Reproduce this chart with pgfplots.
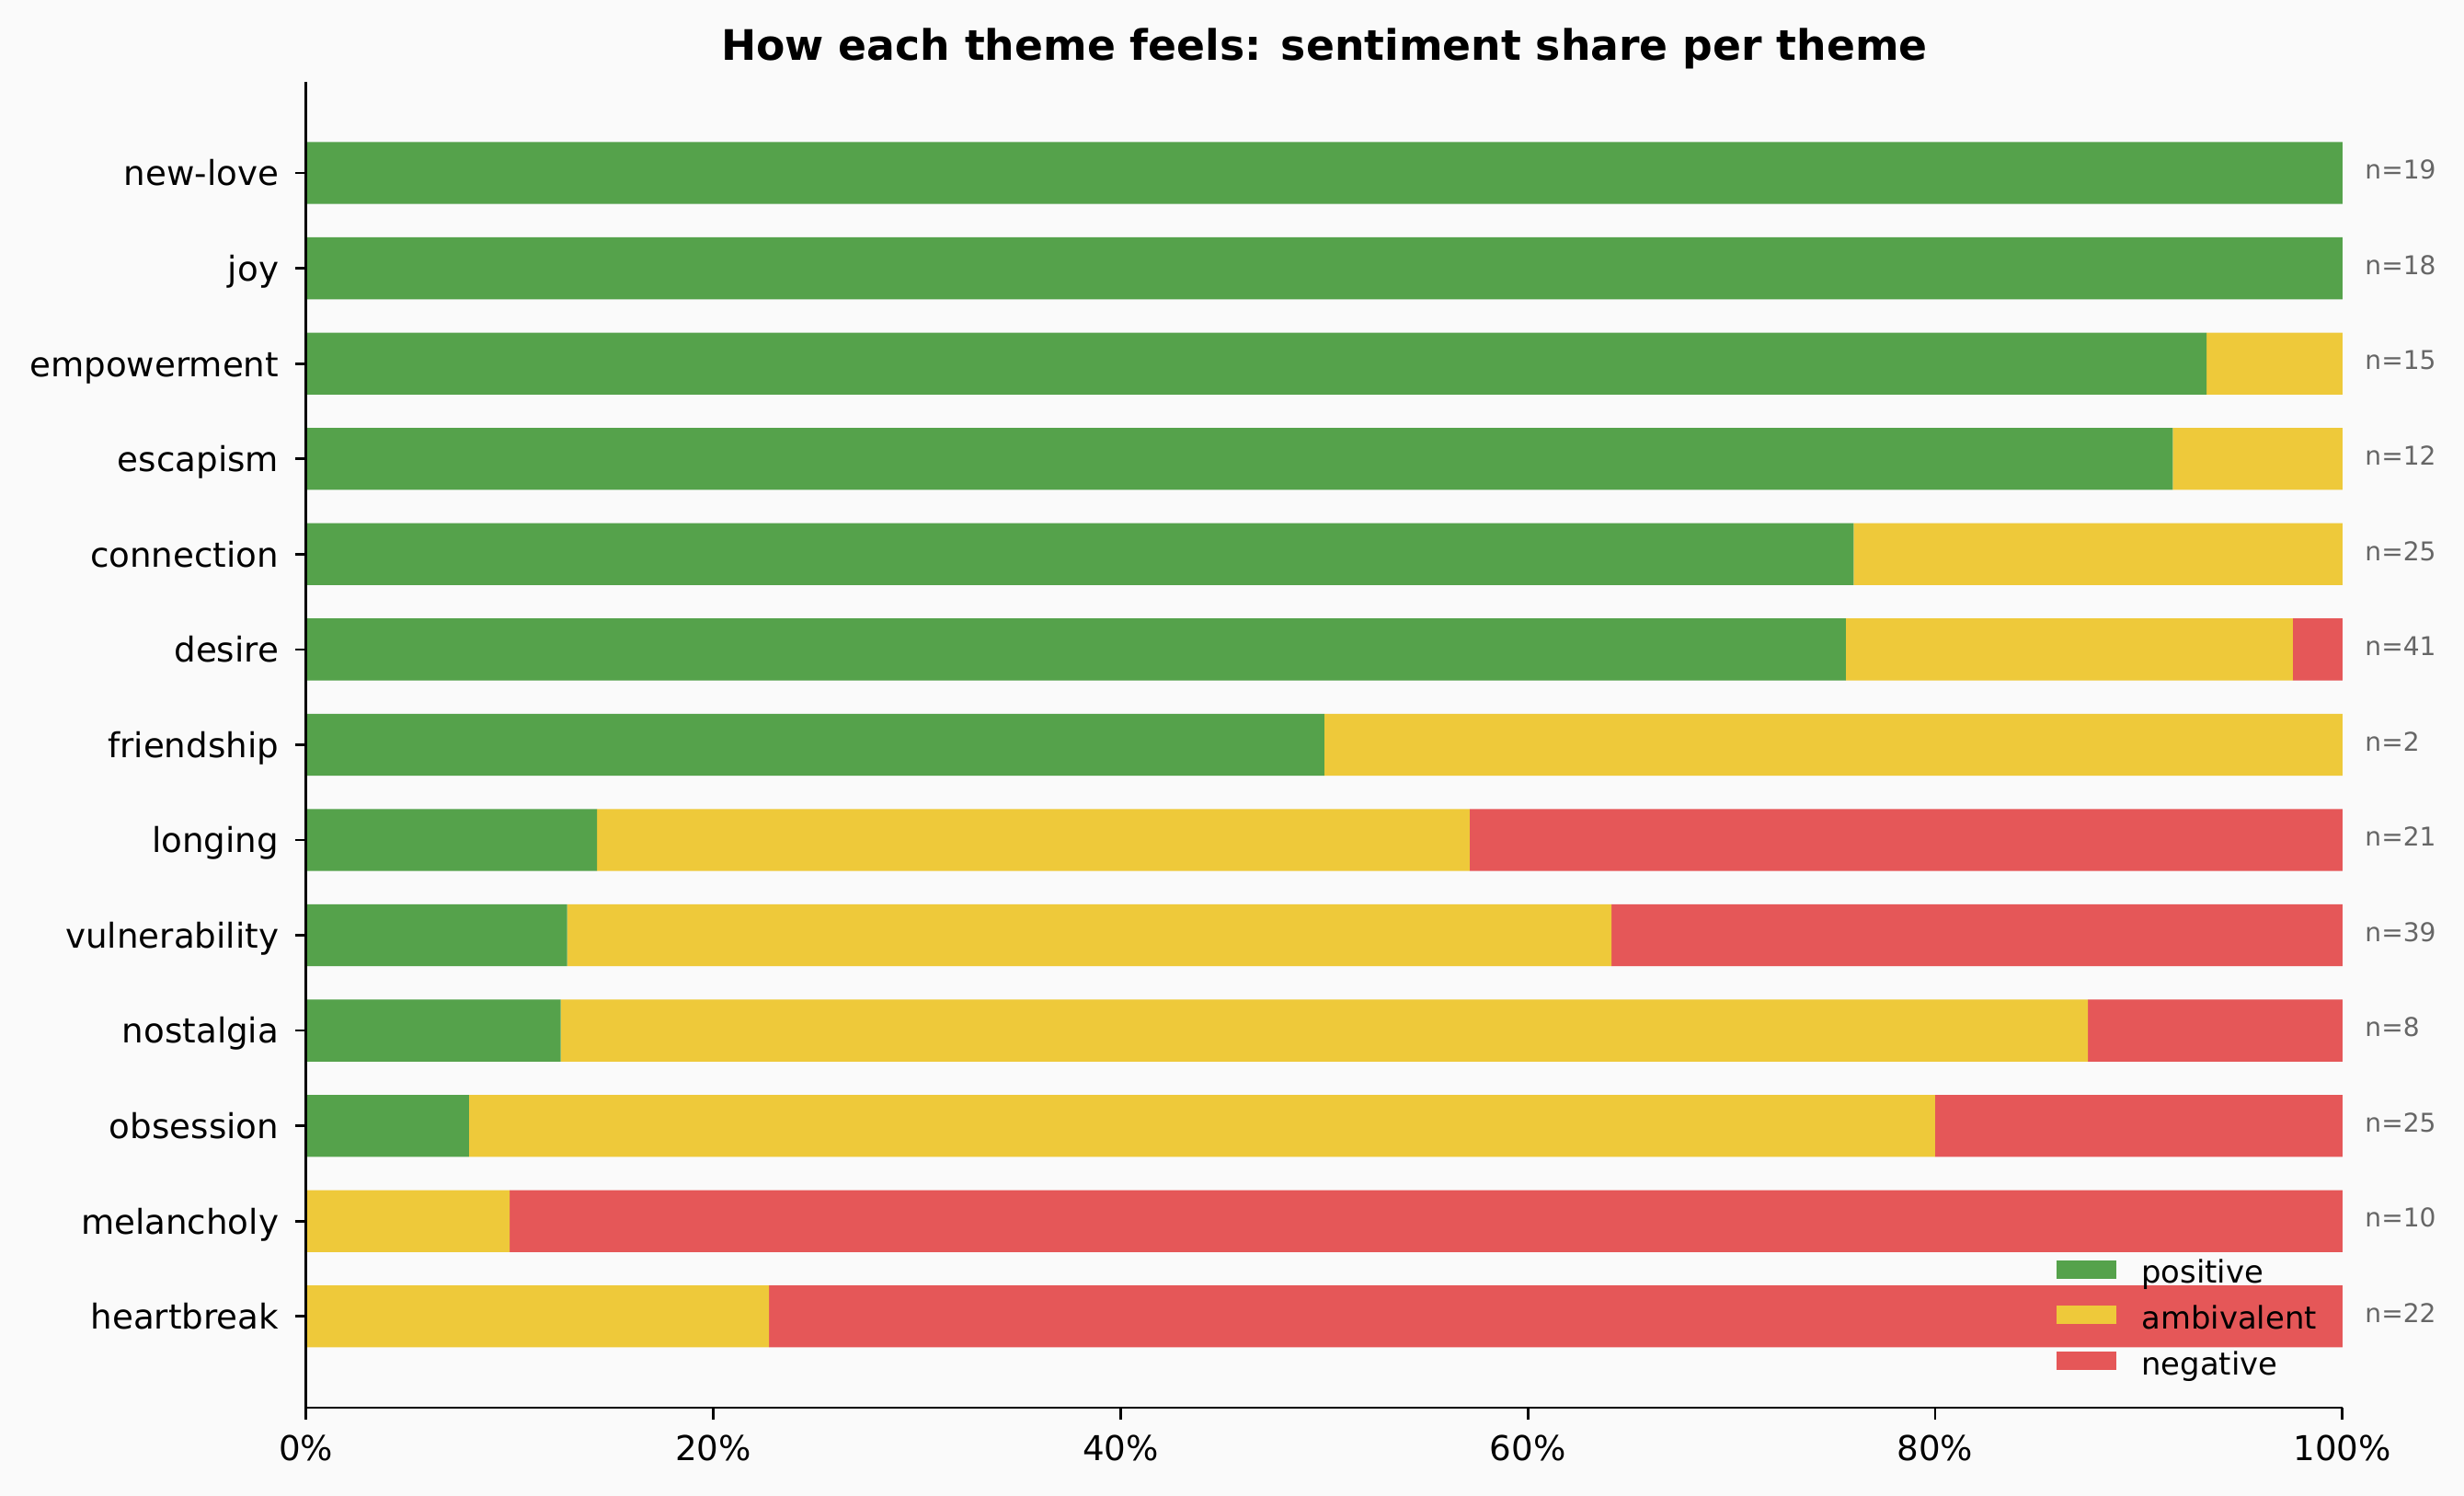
\documentclass[border=0pt]{standalone}
\usepackage{pgfplots}
\usepackage{pgfplotstable}
\pgfplotsset{compat=1.18}
\usepackage{fontspec}
\setmainfont{DejaVu Sans}
\definecolor{cpos}{RGB}{85,162,75}
\definecolor{camb}{RGB}{238,201,58}
\definecolor{cneg}{RGB}{229,87,88}
\definecolor{cbg}{RGB}{250,250,250}
\definecolor{ngray}{RGB}{102,102,102}

\pgfplotstableread{
y pos amb neg n
0 0 22.7273 77.2727 22
1 0 10 90 10
2 8 72 20 25
3 12.5 75 12.5 8
4 12.8205 51.2821 35.8974 39
5 14.2857 42.8571 42.8572 21
6 50 50 0 2
7 75.6098 21.9512 2.4390 41
8 76 24 0 25
9 91.6667 8.3333 0 12
10 93.3333 6.6667 0 15
11 100 0 0 18
12 100 0 0 19
}\datatable

\pgfplotsset{
  commonaxis/.style={
    at={(98.4pt,28.4pt)}, anchor=south west,
    scale only axis, width=654.5pt, height=426pt,
    xmin=0, xmax=100, ymin=-0.9575, ymax=12.9575,
  }
}

\begin{document}
\begin{tikzpicture}
\fill[cbg] (0,0) rectangle (792pt,480.7pt);
\useasboundingbox (0,0) rectangle (792pt,480.7pt);
\node[font=\fontsize{13.5}{16}\selectfont\bfseries, anchor=base, inner sep=0pt] at (425.7pt,461.3pt) {How each theme feels: sentiment share per theme};
\begin{axis}[
  commonaxis,
  xbar stacked, bar width=0.65,
  axis line style={draw=none},
  tick align=outside, major tick length=3.5pt,
  xtick pos=bottom, ytick pos=left,
  tick style={draw=black, line width=0.8pt},
  xtick={0,20,40,60,80,100},
  xticklabels={0\%,20\%,40\%,60\%,80\%,100\%},
  ytick={0,...,12},
  yticklabels={heartbreak,melancholy,obsession,nostalgia,vulnerability,longing,friendship,desire,connection,escapism,empowerment,joy,new-love},
  tick label style={font=\fontsize{11}{13}\selectfont, inner sep=0pt},
  xticklabel style={anchor=base, yshift=-13.5pt},
  yticklabel style={anchor=base east, xshift=-5.1pt, yshift=-4.1pt},
  legend style={at={(1,0)}, anchor=south east, xshift=-8.1pt, yshift=7.9pt,
    draw=none, fill=none, inner sep=0pt, row sep=4.65pt,
    font=\fontsize{10}{12}\selectfont,
    nodes={inner sep=0pt, text height=7.5pt, text depth=2.5pt},
    /tikz/every odd column/.append style={column sep=8pt}},
  legend cell align=left,
]
\addplot[fill=cpos, draw=none, legend image code/.code={\fill[cpos] (0pt,-1pt) rectangle (19.2pt,5pt);}] table[x=pos, y=y] {\datatable};
\addplot[fill=camb, draw=none, legend image code/.code={\fill[camb] (0pt,-1pt) rectangle (19.2pt,5pt);}] table[x=amb, y=y] {\datatable};
\addplot[fill=cneg, draw=none, legend image code/.code={\fill[cneg] (0pt,-1pt) rectangle (19.2pt,5pt);}] table[x=neg, y=y] {\datatable};
\legend{positive,ambivalent,negative}
\end{axis}
\begin{axis}[
  commonaxis,
  hide axis, clip=false,
]
\addplot[only marks, mark=none, nodes near coords={n=\pgfplotspointmeta},
  point meta=explicit symbolic,
  every node near coord/.append style={anchor=base west, xshift=7.1pt, yshift=-2pt, inner sep=0pt,
    font=\fontsize{8.3}{10}\selectfont, text=ngray}]
  table[x expr=100, y=y, meta=n] {\datatable};
\draw[line width=0.8pt, black] (axis cs:0,12.9575) -- (axis cs:0,-0.9575) -- (axis cs:100,-0.9575);
\pgfplotsinvokeforeach{0,20,40,60,80,100}{
  \node[inner sep=0pt, outer sep=0pt, anchor=north, text=black] at (axis cs:#1,-0.9575) {\rule{0.8pt}{3.9pt}};
}
\pgfplotsinvokeforeach{0,1,2,3,4,5,6,7,8,9,10,11,12}{
  \node[inner sep=0pt, outer sep=0pt, anchor=east, text=black] at ([xshift=0.4pt]axis cs:0,#1) {\rule{3.9pt}{0.8pt}};
}
\end{axis}
\end{tikzpicture}
\end{document}
